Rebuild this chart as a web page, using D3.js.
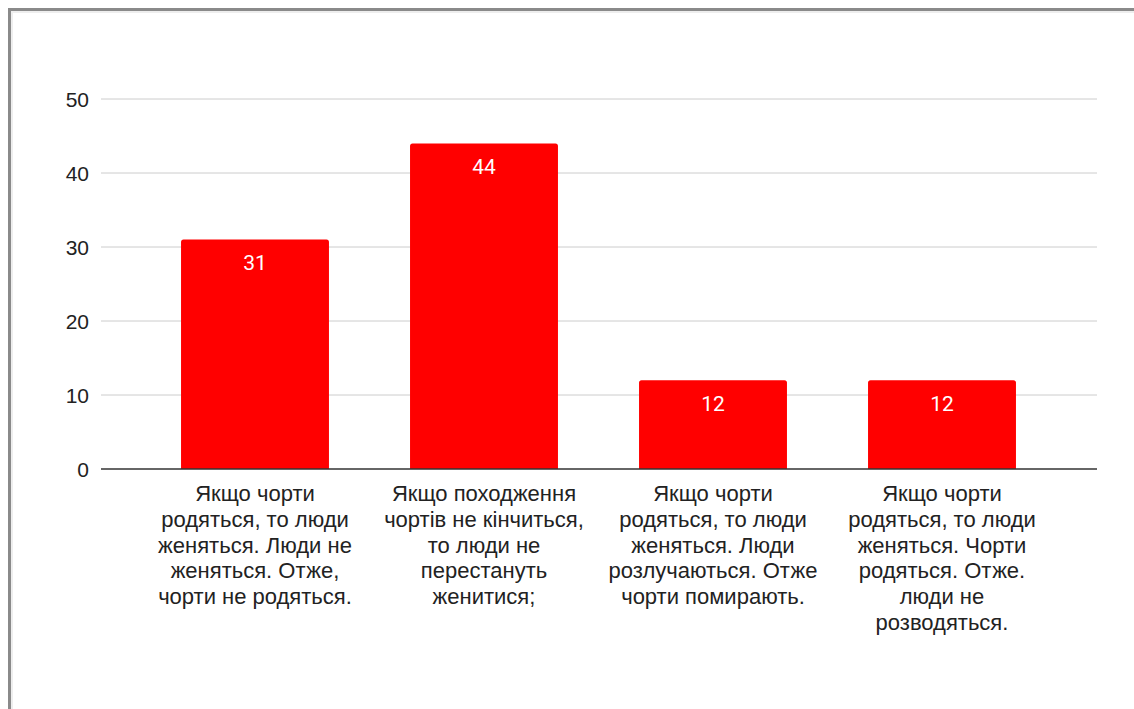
<!DOCTYPE html>
<html>
<head>
<meta charset="utf-8">
<script src="https://cdnjs.cloudflare.com/ajax/libs/d3/7.8.5/d3.min.js"></script>
<style>
  body { margin: 0; background: #fff; }
  svg { display: block; }
</style>
</head>
<body>
<script>
var categories = [
  ['Якщо чорти', 'родяться, то люди', 'женяться. Люди не', 'женяться. Отже,', 'чорти не родяться.'],
  ['Якщо походження', 'чортів не кінчиться,', 'то люди не', 'перестануть', 'женитися;'],
  ['Якщо чорти', 'родяться, то люди', 'женяться. Люди', 'розлучаються. Отже', 'чорти помирають.'],
  ['Якщо чорти', 'родяться, то люди', 'женяться. Чорти', 'родяться. Отже.', 'люди не', 'розводяться.']
]
var values = [31, 44, 12, 12]
var yTicks = [0, 10, 20, 30, 40, 50]

var w = 1134
var h = 709

var svg = d3.select('body')
            .append('svg')
            .attr('width', w)
            .attr('height', h)

// frame (top + left edge of the card)
svg.append('rect').attr('x', 10).attr('y', 10).attr('width', w).attr('height', 3).attr('fill', '#eee')
svg.append('rect').attr('x', 10).attr('y', 10).attr('width', 3).attr('height', h).attr('fill', '#eee')
svg.append('rect').attr('x', 8).attr('y', 8).attr('width', w).attr('height', 3).attr('fill', '#8a8a8a')
svg.append('rect').attr('x', 8).attr('y', 8).attr('width', 3).attr('height', h).attr('fill', '#8a8a8a')

var gridLeft = 101
var gridRight = 1097

var y = d3.scaleLinear()
        .domain([0, 50])
        .range([469, 99])

var x = d3.scaleBand()
        .domain(d3.range(values.length))
        .range([140.5, 1056.5])
        .paddingInner(0.354)
        .paddingOuter(0.177)

// GRIDLINES
svg.selectAll('.grid')
  .data(yTicks.filter(function (d) { return d > 0 }))
  .enter()
    .append('line')
    .attr('x1', gridLeft)
    .attr('x2', gridRight)
    .attr('y1', function (d) { return y(d) })
    .attr('y2', function (d) { return y(d) })
    .attr('stroke', '#cccccc')
    .attr('stroke-width', 1)

// Y TICK LABELS
svg.selectAll('.ytick')
  .data(yTicks)
  .enter()
    .append('text')
    .attr('x', 89)
    .attr('y', function (d) { return y(d) })
    .attr('dy', 7.5)
    .attr('text-anchor', 'end')
    .attr('font-family', 'Liberation Sans, Arial, sans-serif')
    .attr('font-size', 21)
    .attr('fill', '#222')
    .text(function (d) { return d })

// BARS (rounded top corners)
var r = 2.5
svg.selectAll('.bar')
  .data(values)
  .enter()
    .append('path')
    .attr('fill', '#ff0000')
    .attr('d', function (d, i) {
      var x0 = x(i), x1 = x(i) + x.bandwidth(), y0 = y(0), y1 = y(d)
      return 'M' + x0 + ',' + y0 +
        'V' + (y1 + r) +
        'Q' + x0 + ',' + y1 + ' ' + (x0 + r) + ',' + y1 +
        'H' + (x1 - r) +
        'Q' + x1 + ',' + y1 + ' ' + x1 + ',' + (y1 + r) +
        'V' + y0 + 'Z'
    })

// BASELINE
svg.append('line')
  .attr('x1', gridLeft)
  .attr('x2', gridRight)
  .attr('y1', y(0))
  .attr('y2', y(0))
  .attr('stroke', '#333')
  .attr('stroke-width', 1.5)

// VALUE LABELS
svg.selectAll('.bar-label')
  .data(values)
  .enter()
    .append('text')
    .attr('x', function (d, i) { return x(i) + x.bandwidth() / 2 })
    .attr('y', function (d) { return y(d) })
    .attr('dy', 30.5)
    .attr('text-anchor', 'middle')
    .attr('font-family', 'Roboto, sans-serif')
    .attr('font-size', 21)
    .attr('fill', '#fff')
    .text(function (d) { return d })

// CATEGORY LABELS
var cat = svg.selectAll('.cat')
  .data(categories)
  .enter()
    .append('text')
    .attr('text-anchor', 'middle')
    .attr('font-family', 'Liberation Sans, Arial, sans-serif')
    .attr('font-size', 22)
    .attr('fill', '#222')

cat.selectAll('tspan')
  .data(function (d, i) { return d.map(function (t) { return { t: t, i: i } }) })
  .enter()
    .append('tspan')
    .attr('x', function (d) { return x(d.i) + x.bandwidth() / 2 })
    .attr('y', function (d, j) { return 501 + j * 25.8 })
    .text(function (d) { return d.t })
</script>
</body>
</html>
